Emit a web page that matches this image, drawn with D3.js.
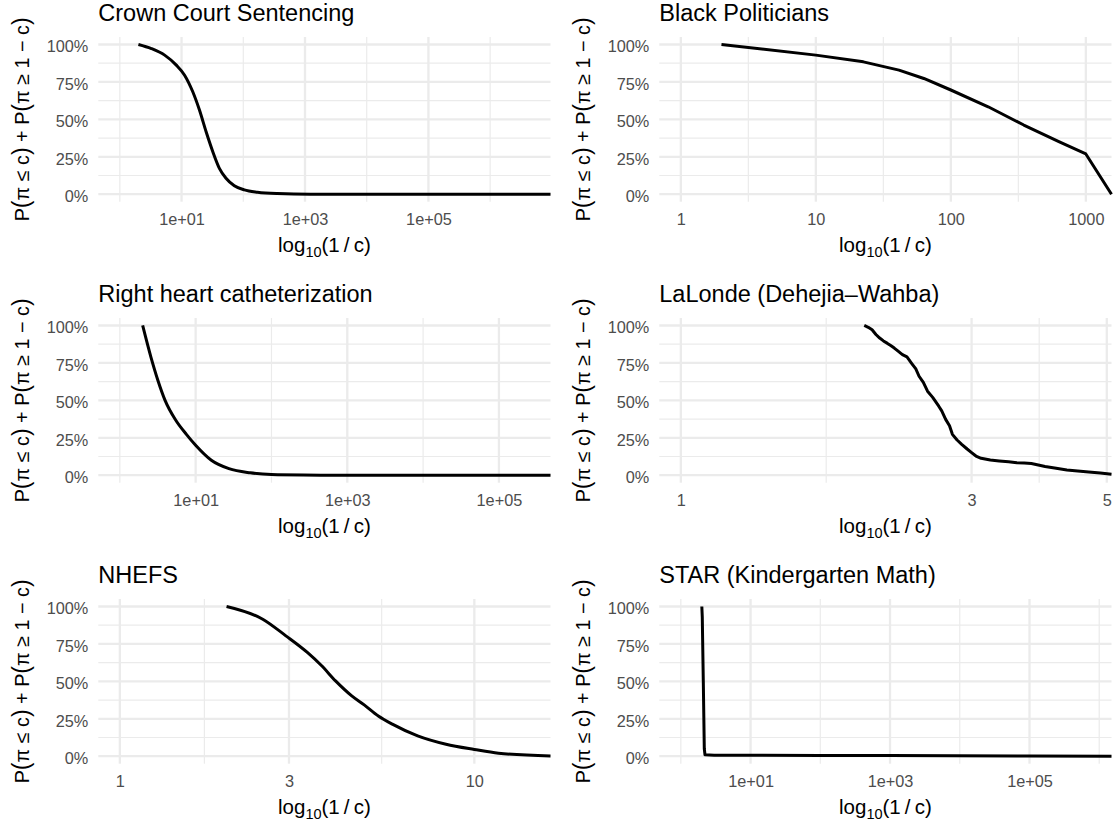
<!DOCTYPE html>
<html>
<head>
<meta charset="utf-8">
<script src="https://cdn.jsdelivr.net/npm/d3@7"></script>
<style>
  body { margin: 0; background: #ffffff; }
  svg { display: block; }
  text { font-family: "Liberation Sans", Arial, Helvetica, sans-serif; }
</style>
</head>
<body>
<svg id="chart" width="1119" height="826"></svg>
<script>
// ---- data: 1/c on the x axis, P(pi <= c) + P(pi >= 1 - c) on the y axis ----
const panelTitles = [
  "Crown Court Sentencing", "Black Politicians",
  "Right heart catheterization", "LaLonde (Dehejia\u2013Wahba)",
  "NHEFS", "STAR (Kindergarten Math)"
];

const crownX = [2, 3.24, 5.32, 8.22, 11.2, 15.2, 19.5, 25.0, 32.1, 41.0, 52.5, 71.6, 104, 170, 355, 1230, 9.5e6];
const crownY = [1.0, 0.973, 0.929, 0.862, 0.795, 0.684, 0.562, 0.417, 0.284, 0.173, 0.107, 0.057, 0.029, 0.013, 0.004, 0.0, 0.0];

const blackX = [2, 10, 22.5, 41.3, 63.1, 100, 189, 347, 631, 1000, 1549];
const blackY = [1.0, 0.929, 0.884, 0.829, 0.773, 0.696, 0.584, 0.462, 0.351, 0.269, 0.0];

const rhcX = [2, 2.57, 3.18, 3.95, 5.47, 7.55, 10, 16.1, 27.5, 52.5, 100, 263, 1000, 4.79e5];
const rhcY = [1.0, 0.789, 0.633, 0.50, 0.367, 0.273, 0.20, 0.10, 0.044, 0.016, 0.004, 0.001, 0.0, 0.0];

const lalondeX = [2.0, 2.03, 2.06, 2.09, 2.12, 2.15, 2.18, 2.21, 2.24, 2.27, 2.31, 2.35, 2.39, 2.43, 2.46, 2.50, 2.54, 2.59,
                  2.65, 2.68, 2.72, 2.76, 2.79, 2.84, 2.89, 2.95, 3.0, 3.05, 3.11, 3.22, 3.33, 3.45, 3.56, 3.66, 3.76,
                  3.86, 3.96, 4.13, 4.30, 4.48, 4.67, 4.88, 5.09];
const lalondeY = [1.0, 0.988, 0.971, 0.94, 0.916, 0.897, 0.882, 0.866, 0.849, 0.83, 0.805, 0.79, 0.749, 0.71, 0.661, 0.62, 0.561, 0.52,
                  0.461, 0.43, 0.373, 0.33, 0.273, 0.235, 0.206, 0.175, 0.151, 0.128, 0.113, 0.101, 0.095, 0.09, 0.084, 0.081, 0.078,
                  0.068, 0.058, 0.046, 0.035, 0.028, 0.022, 0.015, 0.007];

const nhefsX = [2.0, 2.53, 2.94, 3.38, 3.71, 4.06, 4.51, 4.89, 5.36, 5.87, 6.92, 8.32, 10, 11.7, 16.4];
const nhefsY = [1.0, 0.915, 0.804, 0.693, 0.604, 0.503, 0.403, 0.343, 0.269, 0.214, 0.136, 0.08, 0.045, 0.02, 0.002];

const starX = [2.0, 2.03, 2.1, 2.17, 2.22, 3, 10, 100, 1000, 1e5, 1.5e6];
const starY = [1.0, 0.93, 0.5, 0.05, 0.01, 0.007, 0.006, 0.005, 0.004, 0.002, 0.0];

// largest 1/c on each panel's axis (smallest is 1)
const panelXMax = [9.5e6, 1549, 4.79e5, 5.09, 16.4, 1.5e6];

// tick breaks and labels
const sciTicks = [1e1, 1e3, 1e5];
const sciTickLabels = ["1e+01", "1e+03", "1e+05"];
const blackTicks = [1, 10, 100, 1000];
const blackTickLabels = ["1", "10", "100", "1000"];
const lalondeTicks = [1, 3, 5];
const lalondeTickLabels = ["1", "3", "5"];
const nhefsTicks = [1, 3, 10];
const nhefsTickLabels = ["1", "3", "10"];

const percentTicks = [0, 0.25, 0.5, 0.75, 1];
const percentLabels = ["0%", "25%", "50%", "75%", "100%"];

// smooth curves come from dense grids; the ragged/kinked ones are drawn segment by segment
const panelSeries = [
  { x: crownX, y: crownY, ticks: sciTicks, labels: sciTickLabels, smooth: true },
  { x: blackX, y: blackY, ticks: blackTicks, labels: blackTickLabels, smooth: false },
  { x: rhcX, y: rhcY, ticks: sciTicks, labels: sciTickLabels, smooth: true },
  { x: lalondeX, y: lalondeY, ticks: lalondeTicks, labels: lalondeTickLabels, smooth: false },
  { x: nhefsX, y: nhefsY, ticks: nhefsTicks, labels: nhefsTickLabels, smooth: true },
  { x: starX, y: starY, ticks: sciTicks, labels: sciTickLabels, smooth: false }
];

// ---- layout ----
const colOffset = [0, 561];
const rowOffset = [0, 281, 562];
const panel = { left: 98.3, right: 550.5, top: 37, bottom: 201.7 };
const gridColor = "#ebebeb";
const tickTextColor = "#4d4d4d";
const tickFont = "16.3px";

const svg = d3.select("#chart");

// minor breaks sit halfway (in log space) between major breaks
function minorBreaks(majors, domainLog) {
  const b = majors.map(Math.log10);
  const bd = b[1] - b[0];
  if (domainLog[0] < b[0]) b.unshift(b[0] - bd);
  if (domainLog[1] > b[b.length - 1]) b.push(b[b.length - 1] + bd);
  const out = [];
  for (let i = 0; i < b.length - 1; i++) {
    const m = (b[i] + b[i + 1]) / 2;
    if (m >= domainLog[0] && m <= domainLog[1]) out.push(Math.pow(10, m));
  }
  return out;
}

panelSeries.forEach((s, i) => {
  const col = i % 2, row = Math.floor(i / 2);
  const g = svg.append("g")
    .attr("transform", `translate(${colOffset[col]},${rowOffset[row]})`);

  const hiLog = Math.log10(panelXMax[i]);
  const loLog = -0.05 * hiLog;
  const x = d3.scaleLog()
    .domain([Math.pow(10, loLog), panelXMax[i]])
    .range([panel.left, panel.right]);
  const y = d3.scaleLinear()
    .domain([-0.05, 1.05])
    .range([panel.bottom, panel.top]);

  // grid: minor first, then major
  const xMinor = minorBreaks(s.ticks, [loLog, hiLog]);
  const yMinor = [0.125, 0.375, 0.625, 0.875];

  g.append("g").selectAll("line").data(yMinor).join("line")
    .attr("x1", panel.left).attr("x2", panel.right)
    .attr("y1", d => y(d)).attr("y2", d => y(d))
    .attr("stroke", gridColor).attr("stroke-width", 1.2);
  g.append("g").selectAll("line").data(xMinor).join("line")
    .attr("x1", d => x(d)).attr("x2", d => x(d))
    .attr("y1", panel.top).attr("y2", panel.bottom)
    .attr("stroke", gridColor).attr("stroke-width", 1.2);
  g.append("g").selectAll("line").data(percentTicks).join("line")
    .attr("x1", panel.left).attr("x2", panel.right)
    .attr("y1", d => y(d)).attr("y2", d => y(d))
    .attr("stroke", gridColor).attr("stroke-width", 2.3);
  g.append("g").selectAll("line").data(s.ticks).join("line")
    .attr("x1", d => x(d)).attr("x2", d => x(d))
    .attr("y1", panel.top).attr("y2", panel.bottom)
    .attr("stroke", gridColor).attr("stroke-width", 2.3);

  // curve
  const pts = s.x.map((v, k) => [v, s.y[k]]);
  g.append("path")
    .datum(pts)
    .attr("fill", "none")
    .attr("stroke", "#000000")
    .attr("stroke-width", 3)
    .attr("stroke-linejoin", "round")
    .attr("d", d3.line()
      .curve(s.smooth ? d3.curveMonotoneX : d3.curveLinear)
      .x(d => x(d[0])).y(d => y(d[1])));

  // axes
  const xAxis = g.append("g")
    .attr("transform", `translate(0,${panel.bottom})`)
    .call(d3.axisBottom(x).tickValues(s.ticks)
      .tickFormat((d, k) => s.labels[k]).tickSize(0).tickPadding(11.8));
  xAxis.select(".domain").remove();
  xAxis.selectAll("text")
    .attr("fill", tickTextColor)
    .style("font-size", tickFont)
    .style("font-family", "'Liberation Sans', Arial, sans-serif");

  const yAxis = g.append("g")
    .attr("transform", `translate(${panel.left},0)`)
    .call(d3.axisLeft(y).tickValues(percentTicks)
      .tickFormat((d, k) => percentLabels[k]).tickSize(0).tickPadding(10));
  yAxis.select(".domain").remove();
  yAxis.selectAll("text")
    .attr("fill", tickTextColor)
    .attr("dy", "0.45em")
    .style("font-size", tickFont)
    .style("font-family", "'Liberation Sans', Arial, sans-serif");

  // panel title
  g.append("text")
    .attr("x", panel.left)
    .attr("y", 21.3)
    .attr("fill", "#000")
    .style("font-size", "23.5px")
    .text(panelTitles[i]);

  // x axis title: log10(1/c)
  const xt = g.append("text")
    .attr("x", (panel.left + panel.right) / 2)
    .attr("y", 252)
    .attr("text-anchor", "middle")
    .attr("fill", "#000")
    .style("font-size", "20.5px");
  xt.append("tspan").text("log");
  xt.append("tspan").attr("dy", 5).style("font-size", "14.5px").text("10");
  xt.append("tspan").attr("dy", -5).text("(1\u2009/\u2009c)");

  // y axis title, with enlarged grouping parentheses
  const yt = g.append("text")
    .attr("transform", `translate(28.5,${(panel.top + panel.bottom) / 2}) rotate(-90)`)
    .attr("text-anchor", "middle")
    .attr("fill", "#000")
    .style("font-size", "19.8px");
  const yTitleParts = [
    ["P", false], ["(", true], ["\u03c0 \u2264 c", false], [")", true],
    [" + P", false], ["(", true], ["\u03c0 \u2265 1 \u2212 c", false], [")", true]
  ];
  yTitleParts.forEach(([t, big]) => {
    const sp = yt.append("tspan").text(t);
    if (big) sp.style("font-size", "23px");
  });
});
</script>
</body>
</html>
